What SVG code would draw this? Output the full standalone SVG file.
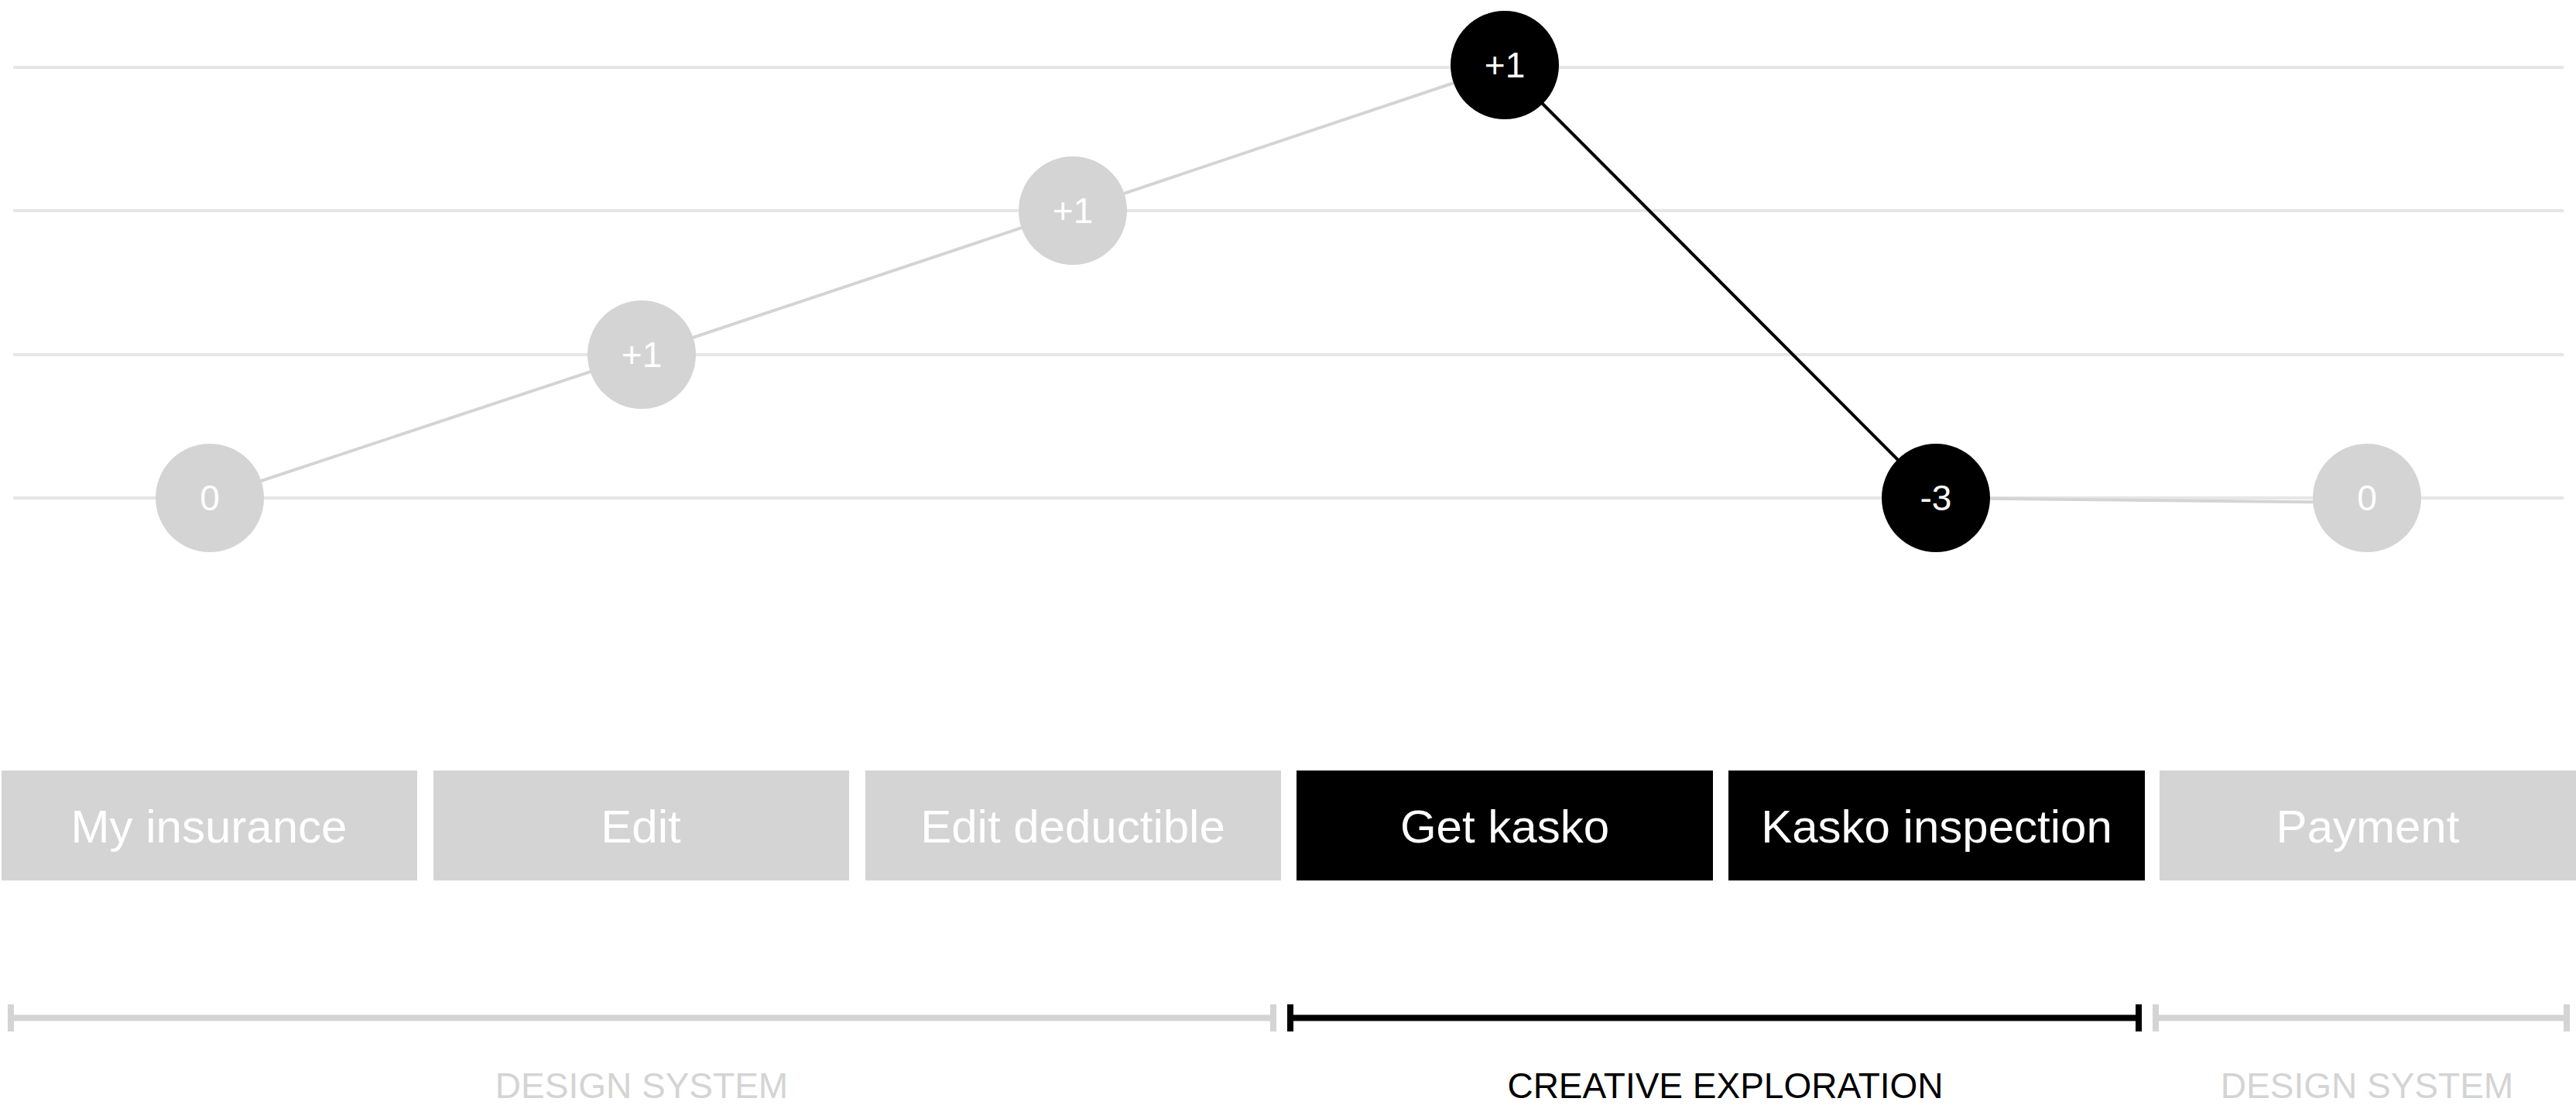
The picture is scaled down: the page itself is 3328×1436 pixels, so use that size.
<svg xmlns="http://www.w3.org/2000/svg" width="3328" height="1436" viewBox="0 0 3328 1436">
<style>
.grid{stroke:#e6e6e6;stroke-width:4;fill:none}
.cg{stroke:#d4d4d4;stroke-width:4;fill:none}
.cb{stroke:#000;stroke-width:4;fill:none}
.ng{fill:#d4d4d4}
.nb{fill:#000}
.t{font-family:"Liberation Sans",Arial,sans-serif;fill:#fff;text-anchor:middle}
.ct{font-size:46px}
.bt{font-size:60px}
.lab{font-family:"Liberation Sans",Arial,sans-serif;font-size:46px;text-anchor:middle}
.brg{stroke:#d4d4d4;stroke-width:8;fill:none}
.brb{stroke:#000;stroke-width:8;fill:none}
</style>
<rect width="3328" height="1436" fill="#fff"/>
<g id="grid">
<line class="grid" x1="17" y1="87" x2="3312" y2="87"/>
<line class="grid" x1="17" y1="272" x2="3312" y2="272"/>
<line class="grid" x1="17" y1="458" x2="3312" y2="458"/>
<line class="grid" x1="17" y1="643" x2="3312" y2="643"/>
</g>
<g id="connectors">
<line class="cg" x1="271" y1="643" x2="829" y2="458"/>
<line class="cg" x1="829" y1="458" x2="1386" y2="272"/>
<line class="cg" x1="1386" y1="272" x2="1944" y2="85"/>
<line class="cb" x1="1944" y1="85" x2="2501" y2="643"/>
<line class="cg" x1="2501" y1="643" x2="3058" y2="649"/>
</g>
<g id="n1"><circle class="ng" cx="271" cy="643" r="70"/><text class="t ct" x="271" y="659">0</text></g>
<g id="n2"><circle class="ng" cx="829" cy="458" r="70"/><text class="t ct" x="829" y="474">+1</text></g>
<g id="n3"><circle class="ng" cx="1386" cy="272" r="70"/><text class="t ct" x="1386" y="288">+1</text></g>
<g id="n4"><circle class="nb" cx="1944" cy="84" r="70"/><text class="t ct" x="1944" y="100">+1</text></g>
<g id="n5"><circle class="nb" cx="2501" cy="643" r="70"/><text class="t ct" x="2501" y="659">-3</text></g>
<g id="n6"><circle class="ng" cx="3058" cy="643" r="70"/><text class="t ct" x="3058" y="659">0</text></g>
<g id="b1"><rect class="ng" x="2" y="995" width="537" height="142"/><text class="t bt" x="270" y="1088">My insurance</text></g>
<g id="b2"><rect class="ng" x="560" y="995" width="537" height="142"/><text class="t bt" x="828" y="1088">Edit</text></g>
<g id="b3"><rect class="ng" x="1118" y="995" width="537" height="142"/><text class="t bt" x="1386" y="1088">Edit deductible</text></g>
<g id="b4"><rect class="nb" x="1675" y="995" width="538" height="142"/><text class="t bt" x="1944" y="1088">Get kasko</text></g>
<g id="b5"><rect class="nb" x="2233" y="995" width="538" height="142"/><text class="t bt" x="2502" y="1088">Kasko inspection</text></g>
<g id="b6"><rect class="ng" x="2790" y="995" width="538" height="142"/><text class="t bt" x="3059" y="1088">Payment</text></g>
<g id="bracket1">
<path class="brg" d="M14 1297V1332M14 1314.5H1645M1645 1297V1332"/>
<text class="lab" x="829" y="1418" fill="#d4d4d4">DESIGN SYSTEM</text>
</g>
<g id="bracket2">
<path class="brb" d="M1667 1297V1332M1667 1314.5H2763M2763 1297V1332"/>
<text class="lab" x="2229" y="1418" fill="#000">CREATIVE EXPLORATION</text>
</g>
<g id="bracket3">
<path class="brg" d="M2785 1297V1332M2785 1314.5H3316M3316 1297V1332"/>
<text class="lab" x="3058" y="1418" fill="#d4d4d4">DESIGN SYSTEM</text>
</g>
</svg>
